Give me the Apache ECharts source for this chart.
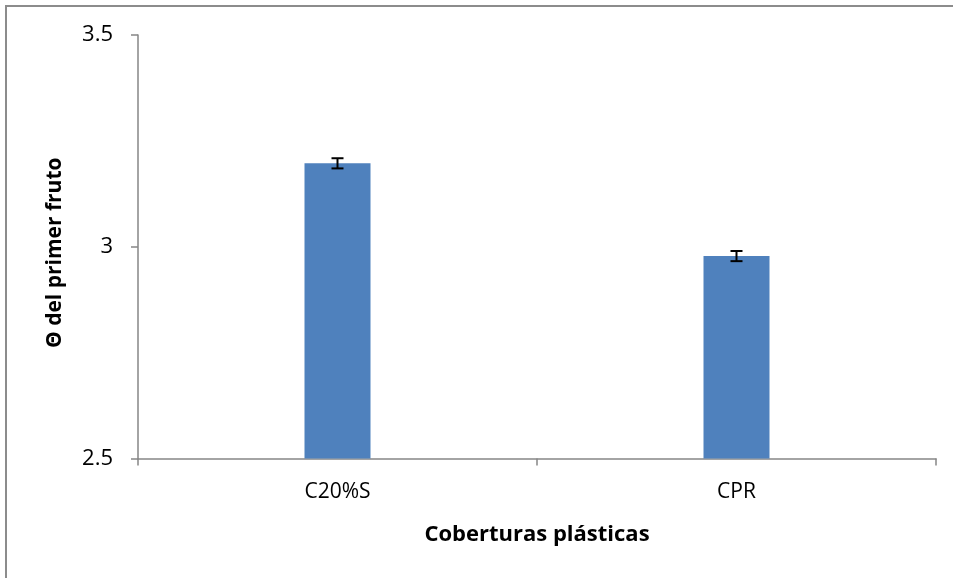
<!DOCTYPE html>
<html><head><meta charset="utf-8">
<script src="https://cdn.jsdelivr.net/npm/echarts@6/dist/echarts.min.js"></script>
<style>html,body{margin:0;padding:0;background:#fff;overflow:hidden}#c{width:953px;height:578px;position:relative}
#frame{position:absolute;left:5px;top:5px;width:960px;height:600px;border-left:2px solid #8c8c8c;border-top:2px solid #8c8c8c;pointer-events:none}</style>
</head><body><div id="c"></div><div id="frame"></div>
<script>
const categories = ['C20%S', 'CPR'];
const values = [3.197, 2.978];
const errors = [0.012, 0.012];
const yTicks = [2.5, 3, 3.5];

const chart = echarts.init(document.getElementById('c'));
const font = '"Open Sans", "Noto Sans", sans-serif';
const axisColor = '#868686';
chart.setOption({
  animation: false,
  grid: {left: 138, top: 35, right: 17, bottom: 119.5},
  xAxis: {
    type: 'category', data: categories,
    axisLine: {lineStyle: {color: axisColor, width: 1.5}},
    axisTick: {show: true, length: 7, lineStyle: {color: axisColor, width: 1.5}},
    axisLabel: {color: '#000', fontSize: 21, fontFamily: font, margin: 23},
    name: 'Coberturas plásticas', nameLocation: 'middle', nameGap: 65,
    nameTextStyle: {fontSize: 22, fontWeight: 'bold', fontFamily: font, color: '#000',
      verticalAlign: 'top'}
  },
  yAxis: {
    type: 'value', min: yTicks[0], max: yTicks[yTicks.length - 1], interval: 0.5,
    axisLine: {show: true, lineStyle: {color: axisColor, width: 1.5}},
    axisTick: {show: true, length: 7, lineStyle: {color: axisColor, width: 1.5}},
    splitLine: {show: false},
    axisLabel: {color: '#000', fontSize: 22, fontFamily: font, margin: 25,
      formatter: v => String(v)},
    name: 'Θ del primer fruto', nameLocation: 'middle', nameGap: 72,
    nameTextStyle: {fontSize: 21, fontWeight: 'bold', fontFamily: font, color: '#000',
      padding: [0, 12, 0, 0]}
  },
  series: [
    {type: 'bar', data: values, barWidth: 66,
     itemStyle: {color: '#4f81bd'}},
    {type: 'custom',
     data: values.map((v, i) => [i, v - errors[i], v + errors[i]]),
     renderItem: function (params, api) {
       const lo = api.coord([api.value(0), api.value(1)]);
       const hi = api.coord([api.value(0), api.value(2)]);
       const x = lo[0], hw = 6;
       const st = {stroke: '#000', lineWidth: 2};
       return {type: 'group', children: [
         {type: 'line', shape: {x1: x, y1: lo[1], x2: x, y2: hi[1]}, style: st},
         {type: 'line', shape: {x1: x - hw, y1: lo[1], x2: x + hw, y2: lo[1]}, style: st},
         {type: 'line', shape: {x1: x - hw, y1: hi[1], x2: x + hw, y2: hi[1]}, style: st}
       ]};
     }, z: 10}
  ]
});
</script></body></html>
